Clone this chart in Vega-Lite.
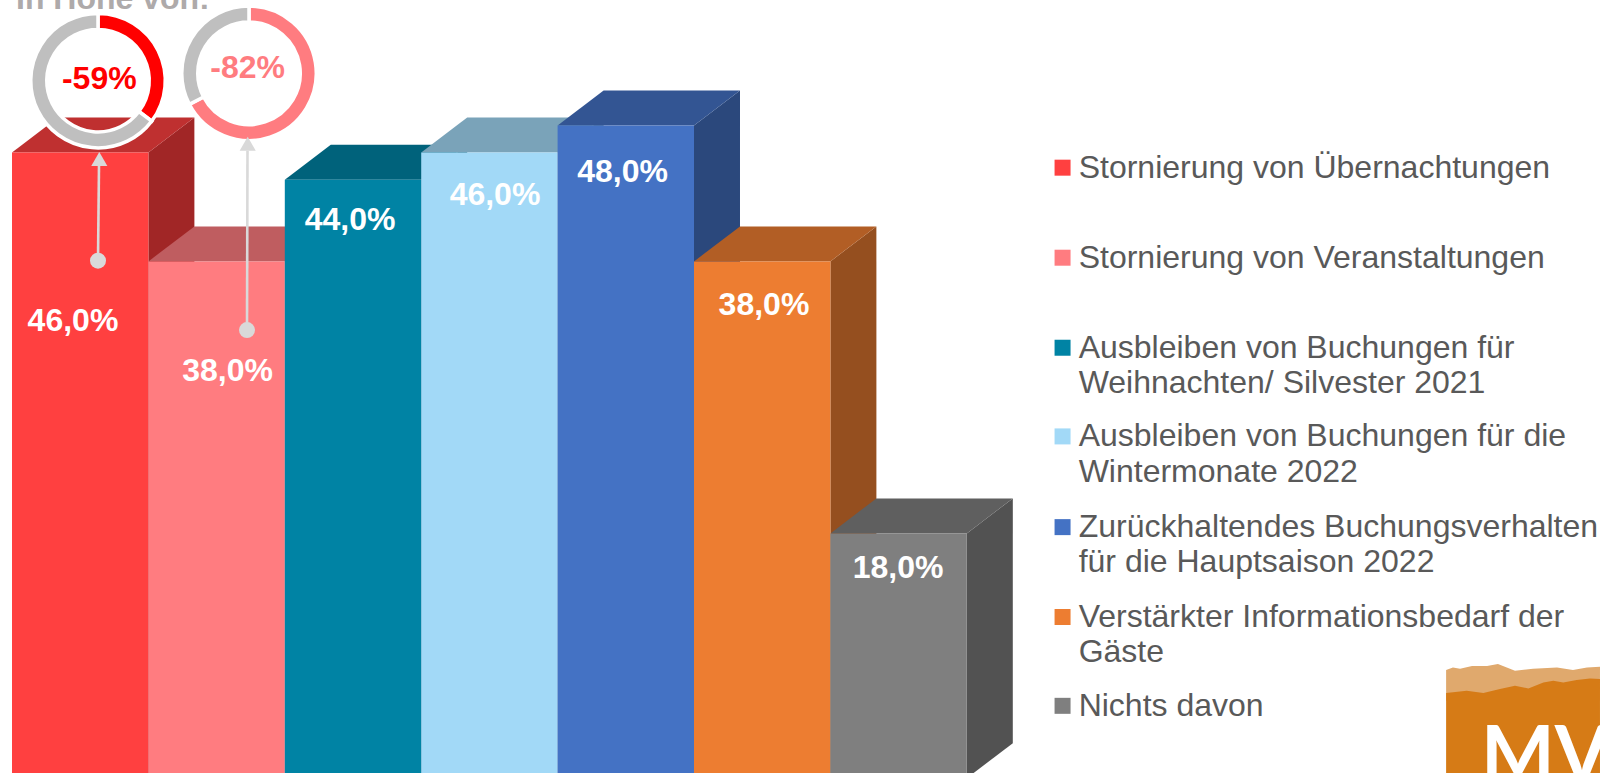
{"$schema":"https://vega.github.io/schema/vega-lite/v6.json","width":1600,"height":773,"padding":0,"autosize":{"type":"none"},"background":"white","config":{"view":{"stroke":null},"axis":{"disable":true},"text":{"font":"Liberation Sans"}},
"datasets":{
"bars":[
{"category":"Stornierung von Übernachtungen","order":0,"value":46,"label":"46,0%","lx":0.447,"ly":33.61},
{"category":"Stornierung von Veranstaltungen","order":1,"value":38,"label":"38,0%","lx":1.58,"ly":29.93},
{"category":"Ausbleiben von Buchungen für Weihnachten/ Silvester 2021","order":2,"value":44,"label":"44,0%","lx":2.478,"ly":41.04},
{"category":"Ausbleiben von Buchungen für die Wintermonate 2022","order":3,"value":46,"label":"46,0%","lx":3.541,"ly":42.9},
{"category":"Zurückhaltendes Buchungsverhalten für die Hauptsaison 2022","order":4,"value":48,"label":"48,0%","lx":4.476,"ly":44.57},
{"category":"Verstärkter Informationsbedarf der Gäste","order":5,"value":38,"label":"38,0%","lx":5.513,"ly":34.82},
{"category":"Nichts davon","order":6,"value":18,"label":"18,0%","lx":6.496,"ly":15.44}],
"donuts":[
{"donut":"-59%","part":"rot","start":0,"end":127,"cx":0.6305,"cy":51.29},
{"donut":"-59%","part":"rest","start":127,"end":360,"cx":0.6305,"cy":51.29},
{"donut":"-82%","part":"rosa","start":0,"end":242.5,"cx":1.7375,"cy":51.83},
{"donut":"-82%","part":"rest","start":242.5,"end":360,"cx":1.7375,"cy":51.83}],
"donutLabels":[
{"text":"-59%","part":"rot","lx":0.64,"ly":51.41},
{"text":"-82%","part":"rosa","lx":1.728,"ly":52.22}],
"callouts":[
{"x0":0.6305,"y0":38.05,"x1":0.6378,"y1":45.04,"hx":0.64,"hy":45.53},
{"x0":1.7229,"y0":32.95,"x1":1.7265,"y1":46.14,"hx":1.728,"hy":46.65}],
"legend":[
{"category":"Stornierung von Übernachtungen","text":"Stornierung von Übernachtungen","first":true,"ly":44.89},
{"category":"Stornierung von Veranstaltungen","text":"Stornierung von Veranstaltungen","first":true,"ly":38.27},
{"category":"Ausbleiben von Buchungen für Weihnachten/ Silvester 2021","text":"Ausbleiben von Buchungen für","first":true,"ly":31.65},
{"category":"Ausbleiben von Buchungen für Weihnachten/ Silvester 2021","text":"Weihnachten/ Silvester 2021","first":false,"ly":29.03},
{"category":"Ausbleiben von Buchungen für die Wintermonate 2022","text":"Ausbleiben von Buchungen für die","first":true,"ly":25.13},
{"category":"Ausbleiben von Buchungen für die Wintermonate 2022","text":"Wintermonate 2022","first":false,"ly":22.51},
{"category":"Zurückhaltendes Buchungsverhalten für die Hauptsaison 2022","text":"Zurückhaltendes Buchungsverhalten","first":true,"ly":18.46},
{"category":"Zurückhaltendes Buchungsverhalten für die Hauptsaison 2022","text":"für die Hauptsaison 2022","first":false,"ly":15.88},
{"category":"Verstärkter Informationsbedarf der Gäste","text":"Verstärkter Informationsbedarf der","first":true,"ly":11.85},
{"category":"Verstärkter Informationsbedarf der Gäste","text":"Gäste","first":false,"ly":9.3},
{"category":"Nichts davon","text":"Nichts davon","first":true,"ly":5.32}],
"logo":[
{"band":"tan","lx":10.514,"ly":7.956,"ly2":5.7},{"band":"tan","lx":10.564,"ly":8.147,"ly2":5.7},{"band":"tan","lx":10.616,"ly":8.051,"ly2":5.7},{"band":"tan","lx":10.704,"ly":8.25,"ly2":5.7},{"band":"tan","lx":10.814,"ly":8.25,"ly2":5.7},{"band":"tan","lx":10.894,"ly":8.397,"ly2":5.7},{"band":"tan","lx":11.019,"ly":7.904,"ly2":5.7},{"band":"tan","lx":11.151,"ly":8.051,"ly2":5.7},{"band":"tan","lx":11.327,"ly":8.147,"ly2":5.7},{"band":"tan","lx":11.444,"ly":7.956,"ly2":5.7},{"band":"tan","lx":11.547,"ly":8.147,"ly2":5.7},{"band":"tan","lx":11.642,"ly":8.199,"ly2":5.7},
{"band":"orange","lx":10.514,"ly":6.265,"ly2":0.331},{"band":"orange","lx":10.665,"ly":6.434,"ly2":0.331},{"band":"orange","lx":10.787,"ly":6.265,"ly2":0.331},{"band":"orange","lx":10.909,"ly":6.559,"ly2":0.331},{"band":"orange","lx":11.019,"ly":6.801,"ly2":0.331},{"band":"orange","lx":11.117,"ly":6.603,"ly2":0.331},{"band":"orange","lx":11.227,"ly":7.044,"ly2":0.331},{"band":"orange","lx":11.3,"ly":7.169,"ly2":0.331},{"band":"orange","lx":11.373,"ly":7.044,"ly2":0.331},{"band":"orange","lx":11.471,"ly":7.22,"ly2":0.331},{"band":"orange","lx":11.569,"ly":7.338,"ly2":0.331},{"band":"orange","lx":11.642,"ly":7.294,"ly2":0.331}]
},
"resolve":{"scale":{"color":"independent"}},
"layer":[
{"data":{"name":"bars"},"transform":[{"calculate":"[0,1]","as":"t"},{"flatten":["t"]},{"calculate":"datum.order+1+datum.t*0.3372","as":"sx"},{"calculate":"datum.value+datum.t*2.5735","as":"sy"},{"calculate":"datum.t*2.5735","as":"sy2"}],
"mark":{"type":"area","orient":"vertical","clip":true},
"encoding":{"x":{"field":"sx","type":"quantitative","scale":{"domain":[-0.08798,11.6422],"nice":false,"zero":false}},"y":{"field":"sy","type":"quantitative","stack":null,"scale":{"domain":[0.381,57.219],"nice":false,"zero":false}},"y2":{"field":"sy2"},"color":{"field":"category","type":"nominal","sort":null,"legend":null,"scale":{"domain":["Stornierung von Übernachtungen","Stornierung von Veranstaltungen","Ausbleiben von Buchungen für Weihnachten/ Silvester 2021","Ausbleiben von Buchungen für die Wintermonate 2022","Zurückhaltendes Buchungsverhalten für die Hauptsaison 2022","Verstärkter Informationsbedarf der Gäste","Nichts davon"],"range":["#A12626","#A14E50","#005368","#66899C","#2B487C","#954F1F","#525252"]}}}},
{"data":{"name":"bars"},"transform":[{"calculate":"[0,1]","as":"t"},{"flatten":["t"]},{"calculate":"datum.order+datum.t*0.3372","as":"tx"},{"calculate":"datum.order+1+datum.t*0.3372","as":"tx2"},{"calculate":"datum.value+datum.t*2.5735","as":"ty"}],
"mark":{"type":"area","orient":"horizontal","clip":true},
"encoding":{"x":{"field":"tx","type":"quantitative","stack":null,"scale":{"domain":[-0.08798,11.6422],"nice":false,"zero":false}},"x2":{"field":"tx2"},"y":{"field":"ty","type":"quantitative","scale":{"domain":[0.381,57.219],"nice":false,"zero":false}},"color":{"field":"category","type":"nominal","sort":null,"legend":null,"scale":{"domain":["Stornierung von Übernachtungen","Stornierung von Veranstaltungen","Ausbleiben von Buchungen für Weihnachten/ Silvester 2021","Ausbleiben von Buchungen für die Wintermonate 2022","Zurückhaltendes Buchungsverhalten für die Hauptsaison 2022","Verstärkter Informationsbedarf der Gäste","Nichts davon"],"range":["#BF3030","#BF5D60","#00627B","#7AA3B9","#335593","#B25E25","#5F5F5F"]}}}},
{"data":{"name":"bars"},"transform":[{"calculate":"datum.order+1","as":"x1"}],
"mark":{"type":"rect","clip":true},
"encoding":{"x":{"field":"order","type":"quantitative","scale":{"domain":[-0.08798,11.6422],"nice":false,"zero":false}},"x2":{"field":"x1"},"y":{"field":"value","type":"quantitative","scale":{"domain":[0.381,57.219],"nice":false,"zero":false}},"y2":{"datum":0},"color":{"field":"category","type":"nominal","sort":null,"legend":null,"scale":{"domain":["Stornierung von Übernachtungen","Stornierung von Veranstaltungen","Ausbleiben von Buchungen für Weihnachten/ Silvester 2021","Ausbleiben von Buchungen für die Wintermonate 2022","Zurückhaltendes Buchungsverhalten für die Hauptsaison 2022","Verstärkter Informationsbedarf der Gäste","Nichts davon"],"range":["#FF4040","#FF7C80","#0083A4","#A2D9F7","#4472C4","#ED7D31","#7F7F7F"]}}}},
{"data":{"name":"bars"},"mark":{"type":"text","fontSize":32,"fontWeight":"bold","color":"white","align":"center","baseline":"middle"},
"encoding":{"x":{"field":"lx","type":"quantitative","scale":{"domain":[-0.08798,11.6422],"nice":false,"zero":false}},"y":{"field":"ly","type":"quantitative","scale":{"domain":[0.381,57.219],"nice":false,"zero":false}},"text":{"field":"label"}}},
{"data":{"name":"donuts"},"mark":{"type":"arc","radius":67.25,"radius2":51.25,"stroke":"white","strokeWidth":3.5},
"encoding":{"x":{"field":"cx","type":"quantitative","scale":{"domain":[-0.08798,11.6422],"nice":false,"zero":false}},"y":{"field":"cy","type":"quantitative","scale":{"domain":[0.381,57.219],"nice":false,"zero":false}},"theta":{"field":"start","type":"quantitative","stack":null,"scale":{"domain":[0,360],"range":[0,6.28319]}},"theta2":{"field":"end"},"color":{"field":"part","type":"nominal","legend":null,"scale":{"domain":["rot","rosa","rest"],"range":["#FF0000","#FF7C80","#BFBFBF"]}}}},
{"data":{"name":"callouts"},"mark":{"type":"rule","color":"#D9D9D9","strokeWidth":2.6},
"encoding":{"x":{"field":"x0","type":"quantitative","scale":{"domain":[-0.08798,11.6422],"nice":false,"zero":false}},"x2":{"field":"x1"},"y":{"field":"y0","type":"quantitative","scale":{"domain":[0.381,57.219],"nice":false,"zero":false}},"y2":{"field":"y1"}}},
{"data":{"name":"callouts"},"mark":{"type":"point","shape":"circle","filled":true,"opacity":1,"size":256,"color":"#D9D9D9"},
"encoding":{"x":{"field":"x0","type":"quantitative","scale":{"domain":[-0.08798,11.6422],"nice":false,"zero":false}},"y":{"field":"y0","type":"quantitative","scale":{"domain":[0.381,57.219],"nice":false,"zero":false}}}},
{"data":{"name":"callouts"},"mark":{"type":"point","shape":"triangle-up","filled":true,"opacity":1,"size":260,"color":"#D9D9D9"},
"encoding":{"x":{"field":"hx","type":"quantitative","scale":{"domain":[-0.08798,11.6422],"nice":false,"zero":false}},"y":{"field":"hy","type":"quantitative","scale":{"domain":[0.381,57.219],"nice":false,"zero":false}}}},
{"data":{"name":"donutLabels"},"mark":{"type":"text","fontSize":32,"fontWeight":"bold","align":"center","baseline":"middle"},
"encoding":{"x":{"field":"lx","type":"quantitative","scale":{"domain":[-0.08798,11.6422],"nice":false,"zero":false}},"y":{"field":"ly","type":"quantitative","scale":{"domain":[0.381,57.219],"nice":false,"zero":false}},"text":{"field":"text"},"color":{"field":"part","type":"nominal","legend":null,"scale":{"domain":["rot","rosa"],"range":["#FF0000","#FF7C80"]}}}},
{"data":{"values":[{"text":"In Höhe von:","lx":0.0293,"ly":56.58}]},"mark":{"type":"text","fontSize":32,"fontWeight":"bold","color":"#AEAAAA","align":"left","baseline":"alphabetic"},
"encoding":{"x":{"field":"lx","type":"quantitative","scale":{"domain":[-0.08798,11.6422],"nice":false,"zero":false}},"y":{"field":"ly","type":"quantitative","scale":{"domain":[0.381,57.219],"nice":false,"zero":false}},"text":{"field":"text"}}},
{"data":{"name":"legend"},"transform":[{"filter":"datum.first"},{"calculate":"7.702","as":"lx"}],"mark":{"type":"square","size":256,"opacity":1},
"encoding":{"x":{"field":"lx","type":"quantitative","scale":{"domain":[-0.08798,11.6422],"nice":false,"zero":false}},"y":{"field":"ly","type":"quantitative","scale":{"domain":[0.381,57.219],"nice":false,"zero":false}},"color":{"field":"category","type":"nominal","sort":null,"legend":null,"scale":{"domain":["Stornierung von Übernachtungen","Stornierung von Veranstaltungen","Ausbleiben von Buchungen für Weihnachten/ Silvester 2021","Ausbleiben von Buchungen für die Wintermonate 2022","Zurückhaltendes Buchungsverhalten für die Hauptsaison 2022","Verstärkter Informationsbedarf der Gäste","Nichts davon"],"range":["#FF4040","#FF7C80","#0083A4","#A2D9F7","#4472C4","#ED7D31","#7F7F7F"]}}}},
{"data":{"name":"legend"},"transform":[{"calculate":"7.82","as":"lx"}],"mark":{"type":"text","fontSize":32,"color":"#595959","align":"left","baseline":"middle"},
"encoding":{"x":{"field":"lx","type":"quantitative","scale":{"domain":[-0.08798,11.6422],"nice":false,"zero":false}},"y":{"field":"ly","type":"quantitative","scale":{"domain":[0.381,57.219],"nice":false,"zero":false}},"text":{"field":"text"}}},
{"data":{"name":"logo"},"mark":{"type":"area","orient":"vertical","clip":true},
"encoding":{"x":{"field":"lx","type":"quantitative","scale":{"domain":[-0.08798,11.6422],"nice":false,"zero":false}},"y":{"field":"ly","type":"quantitative","stack":null,"scale":{"domain":[0.381,57.219],"nice":false,"zero":false}},"y2":{"field":"ly2"},"color":{"field":"band","type":"nominal","sort":null,"legend":null,"scale":{"domain":["tan","orange"],"range":["#E0A96D","#D67B16"]}}}},
{"data":{"values":[{"text":"MV","lx":10.77,"ly":-0.257}]},"mark":{"type":"text","font":"Lato","fontSize":78,"fontWeight":700,"color":"white","align":"left","baseline":"alphabetic"},
"encoding":{"x":{"field":"lx","type":"quantitative","scale":{"domain":[-0.08798,11.6422],"nice":false,"zero":false}},"y":{"field":"ly","type":"quantitative","scale":{"domain":[0.381,57.219],"nice":false,"zero":false}},"text":{"field":"text"}}}
]}
